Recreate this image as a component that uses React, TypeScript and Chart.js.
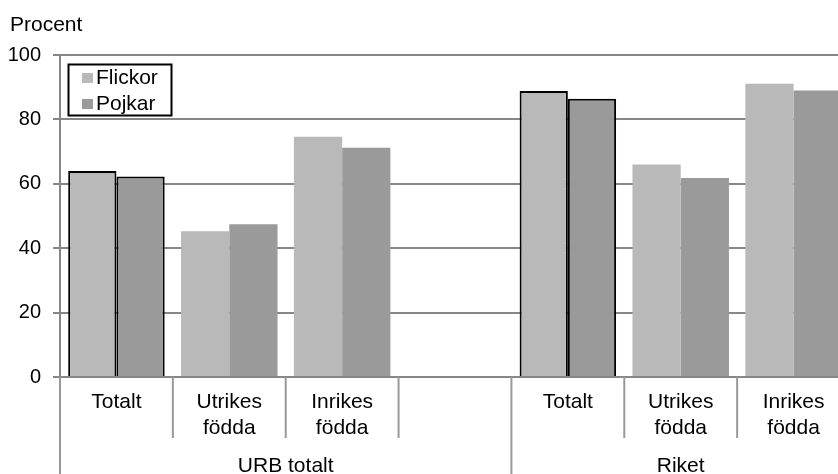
import React, { useEffect, useRef } from "react";
import { Chart, registerables } from "chart.js";

Chart.register(...registerables);

const categories: string[][] = [
  ["Totalt"],
  ["Utrikes", "födda"],
  ["Inrikes", "födda"],
  [""],
  ["Totalt"],
  ["Utrikes", "födda"],
  ["Inrikes", "födda"],
];
const groups = [
  { label: "URB totalt", from: 0, to: 3 },
  { label: "Riket", from: 4, to: 6 },
];
const flickor: (number | null)[] = [64.0, 45.3, 74.6, null, 88.8, 66.0, 91.1];
const pojkar: (number | null)[] = [62.3, 47.4, 71.2, null, 86.4, 61.8, 89.0];
const outlined: boolean[] = [true, false, false, false, true, false, false];
const yTicks = [0, 20, 40, 60, 80, 100];

const FONT = '"Liberation Sans", Arial, sans-serif';
const FLICKOR_COLOR = "#b9b9b9";
const POJKAR_COLOR = "#9a9a9a";
const GRID = "#878787";

const overlay = {
  id: "overlay",
  afterDraw(chart: any) {
    const ctx = chart.ctx as CanvasRenderingContext2D;
    const area = chart.chartArea;
    const x = chart.scales.x;
    const n = categories.length;
    const catW = (area.right - area.left) / n;
    ctx.save();
    ctx.fillStyle = "#000";
    ctx.font = `21px ${FONT}`;
    ctx.textAlign = "left";
    ctx.textBaseline = "alphabetic";
    ctx.fillText("Procent", 10, 31);

    ctx.strokeStyle = "#999";
    ctx.lineWidth = 2;
    const groupStarts = new Set(groups.map((g) => g.from));
    for (let i = 0; i < n; i++) {
      const px = area.left + i * catW;
      const full = groupStarts.has(i);
      ctx.beginPath();
      ctx.moveTo(px, area.bottom);
      ctx.lineTo(px, full ? chart.height : area.bottom + 61);
      ctx.stroke();
    }

    ctx.fillStyle = "#000";
    ctx.font = `21px ${FONT}`;
    ctx.textAlign = "center";
    categories.forEach((lines, i) => {
      const cx = x.getPixelForValue(i);
      lines.forEach((t, j) => {
        ctx.fillText(t, cx, area.bottom + 31 + j * 26);
      });
    });
    groups.forEach((g) => {
      const l = area.left + g.from * catW;
      const r = Math.min(area.left + (g.to + 1) * catW, area.right);
      ctx.fillText(g.label, (l + r) / 2, area.bottom + 95);
    });

    const bx = 68.5, by = 64.5, bw = 103, bh = 51;
    ctx.fillStyle = "#fff";
    ctx.fillRect(bx, by, bw, bh);
    ctx.strokeStyle = "#000";
    ctx.lineWidth = 2;
    ctx.strokeRect(bx, by, bw, bh);
    const items = [
      { label: "Flickor", color: FLICKOR_COLOR, base: 83.5 },
      { label: "Pojkar", color: POJKAR_COLOR, base: 109.5 },
    ];
    ctx.textAlign = "left";
    items.forEach((it) => {
      ctx.fillStyle = it.color;
      ctx.fillRect(82, it.base - 10.5, 11, 10);
      ctx.fillStyle = "#000";
      ctx.fillText(it.label, 96, it.base);
    });
    ctx.restore();
  },
};

export default function App() {
  const ref = useRef<HTMLCanvasElement | null>(null);
  useEffect(() => {
    if (!ref.current) return;
    const chart = new Chart(ref.current, {
      type: "bar",
      data: {
        labels: categories.map((c) => c.join(" ")),
        datasets: [
          {
            label: "Flickor",
            data: flickor,
            backgroundColor: FLICKOR_COLOR,
            borderColor: "#000",
            borderWidth: outlined.map((o) => (o ? 2 : 0)),
            borderSkipped: "bottom",
          },
          {
            label: "Pojkar",
            data: pojkar,
            backgroundColor: POJKAR_COLOR,
            borderColor: "#000",
            borderWidth: outlined.map((o) => (o ? 2 : 0)),
            borderSkipped: "bottom",
          },
        ],
      },
      options: {
        responsive: false,
        animation: false,
        devicePixelRatio: 1,
        layout: { padding: { top: 55, bottom: 97, left: 0, right: 2 } },
        datasets: { bar: { categoryPercentage: 0.855, barPercentage: 1 } },
        plugins: { legend: { display: false }, tooltip: { enabled: false } },
        scales: {
          x: { display: false },
          y: {
            min: 0,
            max: 100,
            afterFit: (s: any) => {
              s.width = 60;
            },
            afterBuildTicks: (s: any) => {
              s.ticks = yTicks.map((v) => ({ value: v }));
            },
            ticks: {
              color: "#000",
              padding: 12,
              font: { family: FONT, size: 20 },
            },
            grid: { color: GRID, lineWidth: 2, tickLength: 7 },
            border: { color: GRID, width: 2 },
          },
        },
      },
      plugins: [overlay],
    });
    return () => chart.destroy();
  }, []);
  return (
    <div style={{ position: "absolute", left: 0, top: 0, width: 838, height: 474, overflow: "hidden", background: "#fff" }}>
      <canvas ref={ref} width={852} height={474} style={{ display: "block" }} />
    </div>
  );
}
